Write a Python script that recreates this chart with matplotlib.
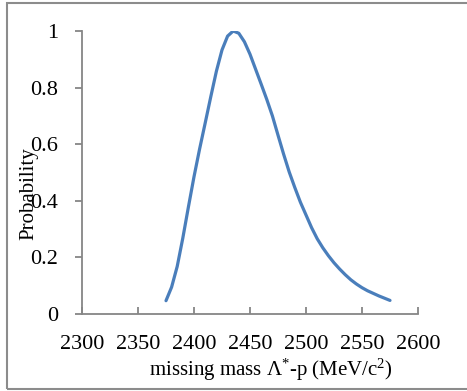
import matplotlib
matplotlib.use("Agg")
import matplotlib.pyplot as plt
from matplotlib.patches import Rectangle

mass = [2375, 2380, 2385, 2390, 2395, 2400, 2405, 2410, 2415, 2420, 2425, 2430,
        2435, 2440, 2445, 2450, 2455, 2460, 2465, 2470, 2475, 2480, 2485, 2490,
        2495, 2500, 2505, 2510, 2515, 2520, 2525, 2530, 2535, 2540, 2545, 2550,
        2555, 2560, 2565, 2570, 2575]
prob = [0.047, 0.095, 0.168, 0.268, 0.378, 0.485, 0.583, 0.675, 0.768, 0.858, 0.933, 0.982,
        1.0, 0.992, 0.962, 0.918, 0.865, 0.812, 0.758, 0.70, 0.632, 0.565, 0.502, 0.447,
        0.395, 0.35, 0.305, 0.266, 0.234, 0.206, 0.181, 0.159, 0.139, 0.121, 0.106, 0.093,
        0.082, 0.073, 0.064, 0.056, 0.048]
xticks = [2300, 2350, 2400, 2450, 2500, 2550, 2600]
yticks = [0, 0.2, 0.4, 0.6, 0.8, 1]
ytick_labels = ["0", "0.2", "0.4", "0.6", "0.8", "1"]

plt.rcParams['font.family'] = ['Liberation Serif', 'DejaVu Serif']
plt.rcParams['mathtext.fontset'] = 'custom'
plt.rcParams['mathtext.rm'] = 'Liberation Serif'
plt.rcParams['mathtext.it'] = 'Liberation Serif:italic'
W, H = 467, 391
fig = plt.figure(figsize=(W/100, H/100), dpi=100)
fig.patches.append(Rectangle((7/W, 1-389/H), 1.0, (389-3)/H, transform=fig.transFigure,
                             fill=False, edgecolor='#8c8c8c', linewidth=1.5))
ax = fig.add_axes([82/W, 1-314/H, (418-82)/W, (314-31)/H])
ax.plot(mass, prob, color='#4a7ebb', linewidth=2.3, solid_capstyle='round',
        solid_joinstyle='round')
ax.set_xlim(2300, 2600)
ax.set_ylim(0, 1)
ax.set_xticks(xticks)
ax.set_xticklabels([str(t) for t in xticks])
ax.set_yticks(yticks)
ax.set_yticklabels(ytick_labels)
for s in ['top', 'right']:
    ax.spines[s].set_visible(False)
for s in ['left', 'bottom']:
    ax.spines[s].set_color('#868686')
    ax.spines[s].set_linewidth(1.3)
ax.tick_params(axis='both', colors='#868686', length=5, width=1.3, labelcolor='black',
               labelsize=16)
ax.tick_params(axis='y', direction='out', pad=12)
ax.tick_params(axis='x', direction='in', pad=15)
fig.text(271/W, 1-376/H, "missing mass \u039b$^{*}$-p (MeV/c$^{2}$)", fontsize=15,
         ha='center', va='baseline')
fig.text(29/W, 1-194/H, "Probability", rotation=90, ha='center', va='center', fontsize=15)
fig.savefig("out.png", dpi=100)
